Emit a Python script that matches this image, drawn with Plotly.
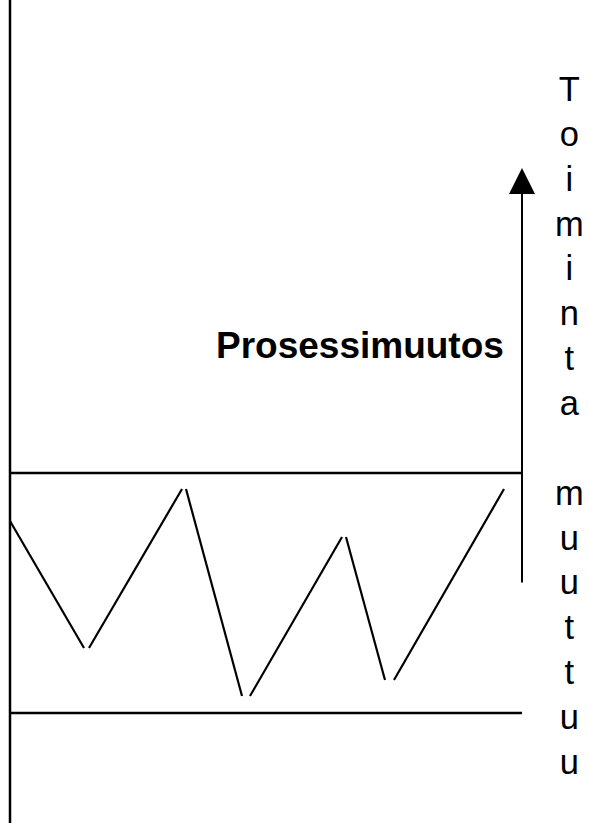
import plotly.graph_objects as go

# zigzag process values (pixel-like coordinates, y grows downward)
seg_start_x = [10, 89, 186, 250, 346, 394]
seg_start_y = [521, 648, 489, 696, 537, 680]
seg_end_x = [84, 182, 242, 342, 385, 504]
seg_end_y = [648, 489, 696, 537, 680, 489]

# control limits
limit_y = [473, 713]
limit_x0 = 10
limit_x1 = 522

label_main = "Prosessimuutos"
label_side = "Toiminta muuttuu"

fig = go.Figure()

# zigzag drawn as separate segments (gaps at the turning points)
xs = []
ys = []
for i in range(len(seg_start_x)):
    xs += [seg_start_x[i], seg_end_x[i], None]
    ys += [seg_start_y[i], seg_end_y[i], None]
fig.add_trace(go.Scatter(x=xs, y=ys, mode="lines",
                         line=dict(color="black", width=2.2),
                         showlegend=False, hoverinfo="skip"))

# horizontal limits
for y in limit_y:
    fig.add_shape(type="line", x0=limit_x0, x1=limit_x1, y0=y, y1=y,
                  line=dict(color="black", width=2.5))

# vertical axis
fig.add_shape(type="line", x0=10, x1=10, y0=0, y1=823,
              line=dict(color="black", width=2.5))

# arrow
fig.add_annotation(x=522, y=168, ax=522, ay=584, xref="x", yref="y",
                   axref="x", ayref="y", text="", showarrow=True,
                   arrowhead=2, arrowsize=2.6, arrowwidth=2, arrowcolor="black",
                   standoff=0)

fig.add_annotation(x=360, y=345, xref="x", yref="y", text="<b>" + label_main + "</b>",
                   showarrow=False, xanchor="center", yanchor="middle",
                   font=dict(family="Liberation Sans, Arial", size=37, color="black"))

side_txt = "<br>".join(ch if ch != " " else " " for ch in label_side)
fig.add_annotation(x=569, y=425, xref="x", yref="y", text=side_txt,
                   showarrow=False, xanchor="center", yanchor="middle",
                   font=dict(family="Liberation Sans, Arial", size=34.5, color="black"))

fig.update_xaxes(range=[0, 589], visible=False, fixedrange=True)
fig.update_yaxes(range=[823, 0], visible=False, fixedrange=True)
fig.update_layout(width=589, height=823, margin=dict(l=0, r=0, t=0, b=0),
                  plot_bgcolor="white", paper_bgcolor="white")

fig.write_html("out.html", config={"displayModeBar": False},
               post_script="document.body.style.margin='0';")
